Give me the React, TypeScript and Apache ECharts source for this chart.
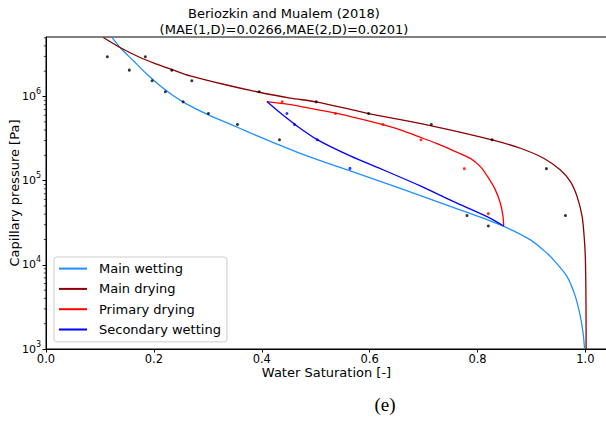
import React, { useEffect, useRef } from "react";
import * as echarts from "echarts";

// ---- data (water saturation [-], capillary pressure [Pa]) ----
const mainWettingX = [0.1219, 0.1373, 0.162, 0.1868, 0.2115, 0.2362, 0.261, 0.2981, 0.3414, 0.3785, 0.4249, 0.4712, 0.5176, 0.564, 0.6568, 0.7495, 0.8423, 0.898, 0.9289, 0.9412, 0.966, 0.9814, 0.9907, 0.9957, 0.9985];
const mainWettingY = [5.08e6, 3.83e6, 2.66e6, 1.85e6, 1.34e6, 1.02e6, 8.12e5, 6.18e5, 4.7e5, 3.7e5, 2.78e5, 2.11e5, 1.65e5, 1.31e5, 8.1e4, 4.95e4, 2.98e4, 1.98e4, 1.37e4, 1.14e4, 7.24e3, 4.19e3, 2.42e3, 1.54e3, 1.0e3];

const mainDryingX = [0.1063, 0.1373, 0.1744, 0.2054, 0.2362, 0.2672, 0.3289, 0.3909, 0.4527, 0.5009, 0.598, 0.7124, 0.8269, 0.8794, 0.9226, 0.9536, 0.9722, 0.9846, 0.9939, 0.9981, 1.0, 1.001, 1.0013];
const mainDryingY = [5.04e6, 3.83e6, 2.91e6, 2.43e6, 2.06e6, 1.76e6, 1.4e6, 1.14e6, 9.57e5, 8.65e5, 6.28e5, 4.52e5, 3.06e5, 2.43e5, 1.85e5, 1.34e5, 9.75e4, 6.47e4, 3.74e4, 1.98e4, 1.14e4, 3.83e3, 1.0e3];

const primaryDryingX = [0.4095, 0.4403, 0.4712, 0.5367, 0.5826, 0.6247, 0.6568, 0.6952, 0.7249, 0.7557, 0.7866, 0.8052, 0.8206, 0.833, 0.8423, 0.8473, 0.8484];
const primaryDryingY = [8.72e5, 8.23e5, 7.65e5, 6.35e5, 5.43e5, 4.63e5, 4.02e5, 3.26e5, 2.75e5, 2.26e5, 1.84e5, 1.47e5, 1.07e5, 7.78e4, 5.4e4, 3.74e4, 2.9e4];

const secondaryWettingX = [0.4095, 0.4341, 0.4607, 0.5028, 0.564, 0.6258, 0.6939, 0.7557, 0.8176, 0.8484];
const secondaryWettingY = [8.72e5, 6.4e5, 4.7e5, 3.08e5, 1.97e5, 1.34e5, 8.67e4, 5.64e4, 3.74e4, 2.9e4];

// measured points
const obsWettingX = [0.1137, 0.1545, 0.1967, 0.2213, 0.2542, 0.3011, 0.3549, 0.4328, 0.7805, 0.82];
const obsWettingY = [2.97e6, 2.06e6, 1.54e6, 1.14e6, 8.65e5, 6.28e5, 4.65e5, 3.06e5, 3.85e4, 2.9e4];
const obsDryingX = [0.1842, 0.2332, 0.2703, 0.3952, 0.5009, 0.598, 0.7143, 0.8269, 0.9276, 0.9629];
const obsDryingY = [2.97e6, 2.06e6, 1.54e6, 1.14e6, 8.65e5, 6.28e5, 4.65e5, 3.06e5, 1.39e5, 3.85e4];
const obsPrimaryX = [0.4378, 0.5367, 0.6247, 0.6952, 0.7755, 0.82];
const obsPrimaryY = [8.65e5, 6.3e5, 4.65e5, 3.06e5, 1.39e5, 4.06e4];
const obsSecondaryX = [0.4466, 0.4607, 0.5028, 0.5635];
const obsSecondaryY = [6.3e5, 4.65e5, 3.06e5, 1.4e5];

const minorTickValues = [2e3, 3e3, 4e3, 5e3, 6e3, 7e3, 8e3, 9e3, 2e4, 3e4, 4e4, 5e4, 6e4, 7e4, 8e4, 9e4, 2e5, 3e5, 4e5, 5e5, 6e5, 7e5, 8e5, 9e5, 2e6, 3e6, 4e6, 5e6];

const seriesNames = ["Main wetting", "Main drying", "Primary drying", "Secondary wetting"];
const seriesColors = ["#1e90ff", "#8b0000", "#ff0000", "#0000ff"];

const titleLines = ["Beriozkin and Mualem (2018)", "(MAE(1,D)=0.0266,MAE(2,D)=0.0201)"];

const zip = (xs: number[], ys: number[]) => xs.map((x, i) => [x, ys[i]]);

const FONT = "DejaVu Sans";

export default function App() {
  const ref = useRef<HTMLDivElement>(null);
  useEffect(() => {
    if (!ref.current) return;
    const chart = echarts.init(ref.current, undefined, { renderer: "svg" });
    const curves = [
      zip(mainWettingX, mainWettingY),
      zip(mainDryingX, mainDryingY),
      zip(primaryDryingX, primaryDryingY),
      zip(secondaryWettingX, secondaryWettingY),
    ];
    const lineSeries = curves.map((d, i) => ({
      name: seriesNames[i],
      type: "line",
      data: d,
      showSymbol: false,
      smooth: 0.3,
      lineStyle: { color: seriesColors[i], width: 1.3 },
      itemStyle: { color: seriesColors[i] },
      z: 3,
    }));
    const obs = [
      [zip(obsWettingX, obsWettingY), "#000000"],
      [zip(obsDryingX, obsDryingY), "#000000"],
      [zip(obsPrimaryX, obsPrimaryY), "#ff0000"],
      [zip(obsSecondaryX, obsSecondaryY), "#0000ff"],
    ] as [number[][], string][];
    const scatterSeries = obs.map(([d, c]) => ({
      type: "scatter",
      data: d,
      symbol: "circle",
      symbolSize: 3,
      itemStyle: { color: c },
      silent: true,
      z: 4,
    }));
    const minorSeries = {
      type: "custom",
      data: minorTickValues.map((v) => [0, v]),
      clip: false,
      silent: true,
      renderItem: (_p: any, api: any) => {
        const pt = api.coord([api.value(0), api.value(1)]);
        return {
          type: "line",
          shape: { x1: pt[0] - 2.2, y1: pt[1], x2: pt[0], y2: pt[1] },
          style: { stroke: "#000", lineWidth: 0.7 },
        };
      },
    };

    chart.setOption({
      animation: false,
      backgroundColor: "#ffffff",
      grid: {
        left: 46,
        top: 37,
        right: -1,
        bottom: 80,
        containLabel: false,
        outerBoundsMode: "none",
        show: true,
        borderColor: "#000",
        borderWidth: 1,
        backgroundColor: "transparent",
      },
      legend: {
        orient: "vertical",
        left: 54,
        top: 257,
        data: seriesNames.map((n) => ({ name: n, icon: "rect" })),
        itemWidth: 28,
        itemHeight: 2,
        itemGap: 4.3,
        padding: [3.6, 6, 4.4, 5],
        borderColor: "#cccccc",
        borderWidth: 1,
        borderRadius: 3,
        backgroundColor: "rgba(255,255,255,0.8)",
        textStyle: { fontFamily: FONT, fontSize: 13, color: "#000", lineHeight: 16, padding: [0, 0, 0, 7] },
      },
      xAxis: {
        type: "value",
        min: 0,
        max: 1.04,
        interval: 0.2,
        name: "Water Saturation [-]",
        nameLocation: "middle",
        nameGap: 16.5,
        nameMoveOverlap: false,
        nameTextStyle: { fontFamily: FONT, fontSize: 13, color: "#000", verticalAlign: "top" },
        axisLine: { show: true, lineStyle: { color: "#000", width: 1 } },
        axisTick: { show: true, length: 3.5, lineStyle: { color: "#000", width: 1 } },
        axisLabel: {
          fontFamily: FONT,
          fontSize: 11.5,
          color: "#000",
          margin: 3.5,
          showMaxLabel: false,
          formatter: (v: number) => v.toFixed(1),
        },
        splitLine: { show: false },
      },
      yAxis: {
        type: "log",
        logBase: 10,
        min: 1000,
        max: 5.1e6,
        name: "Capillary pressure [Pa]",
        nameLocation: "middle",
        nameRotate: 90,
        nameGap: 25,
        nameMoveOverlap: false,
        nameTextStyle: { fontFamily: FONT, fontSize: 13, color: "#000" },
        axisLine: { show: true, lineStyle: { color: "#000", width: 1 } },
        axisTick: { show: true, length: 3.5, lineStyle: { color: "#000", width: 1 } },
        axisLabel: {
          fontFamily: FONT,
          color: "#000",
          margin: 5,
          showMaxLabel: false,
          formatter: (v: number) => `{b|10}{s|${Math.round(Math.log10(v))}}`,
          rich: {
            b: { fontFamily: FONT, fontSize: 11, lineHeight: 18, color: "#000" },
            s: { fontFamily: FONT, fontSize: 8, lineHeight: 8, verticalAlign: "top", color: "#000" },
          },
        },
        splitLine: { show: false },
      },
      graphic: [
        {
          type: "text",
          x: 284,
          y: 13.5,
          style: { text: titleLines[0], fontFamily: FONT, fontSize: 13, fill: "#000", textAlign: "center", textVerticalAlign: "middle" },
        },
        {
          type: "text",
          x: 284,
          y: 29.5,
          style: { text: titleLines[1], fontFamily: FONT, fontSize: 13, fill: "#000", textAlign: "center", textVerticalAlign: "middle" },
        },
        {
          type: "text",
          x: 385,
          y: 404,
          style: { text: "(e)", fontFamily: "Liberation Serif", fontSize: 19, fill: "#000", textAlign: "center", textVerticalAlign: "middle" },
        },
      ],
      series: [...lineSeries, ...scatterSeries, minorSeries],
    });
    return () => chart.dispose();
  }, []);
  return (
    <div
      ref={ref}
      style={{ position: "absolute", left: 0, top: 0, width: 606, height: 429, background: "#fff" }}
    />
  );
}
